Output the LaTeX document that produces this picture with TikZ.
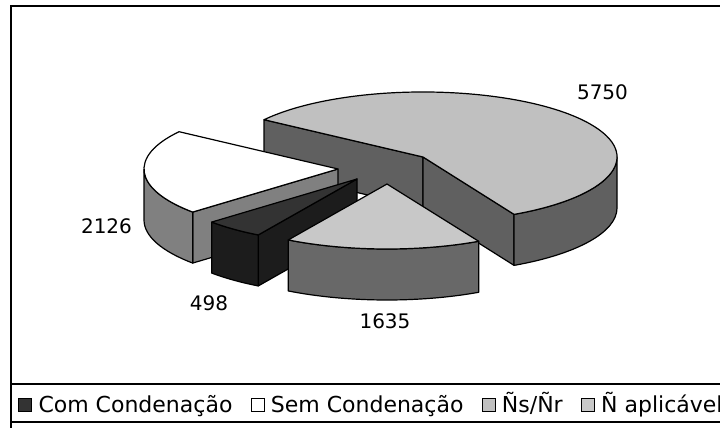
\documentclass[tikz,border=0pt]{standalone}
\usepackage{fontspec}
\setmainfont{DejaVu Sans}
\usetikzlibrary{calc}
\definecolor{bigtop}{HTML}{C0C0C0}
\definecolor{bigside}{HTML}{606060}
\definecolor{lighttop}{HTML}{C8C8C8}
\definecolor{lightside}{HTML}{686868}
\definecolor{whiteside}{HTML}{808080}
\definecolor{darktop}{HTML}{333333}
\definecolor{darkside}{HTML}{1C1C1C}
\tikzset{
  face/.style={draw=black, line width=1.2pt, line join=round},
  ell/.style={x radius=194pt, y radius=65pt},
  lbl/.style={font=\fontsize{20}{24}\selectfont, inner sep=0pt},
  legtext/.style={font=\fontsize{22}{26}\selectfont, inner sep=0pt, anchor=base west},
  legmark/.style={draw=black, line width=1pt, minimum size=13pt, inner sep=0pt, anchor=west}
}
\begin{document}
\begin{tikzpicture}[x=1pt,y=1pt]
\useasboundingbox (0,0) rectangle (720,428);
\clip (0,0) rectangle (720,428);
\fill[white] (0,0) rectangle (720,428);
% frame and legend box
\draw[line width=2pt] (11,-20) rectangle (740,421.5);
\draw[line width=1.5pt] (11,6) rectangle (740,44);

% big slice (5750)
\coordinate (B) at (423,271);
\coordinate (Bb) at (423,220);
\draw[face, fill=bigside] (B) -- ++(145:194pt and 65pt) -- ++(0,-51) -- (Bb) -- cycle;
\draw[face, fill=bigside] (B) -- ++(-62:194pt and 65pt) -- ++(0,-51) -- (Bb) -- cycle;
\draw[face, fill=bigside] ($(B)+(-62:194pt and 65pt)$) arc[start angle=-62, end angle=0, ell] -- ++(0,-51) arc[start angle=0, end angle=-62, ell] -- cycle;
\draw[face, fill=bigtop] (B) -- ++(-62:194pt and 65pt) arc[start angle=-62, end angle=145, ell] -- cycle;

% white slice (2126)
\coordinate (W) at (338,259);
\coordinate (Wb) at (338,208);
\draw[face, fill=whiteside] (W) -- ++(221.5:194pt and 65pt) -- ++(0,-51) -- (Wb) -- cycle;
\draw[face, fill=whiteside] ($(W)+(180:194pt and 65pt)$) arc[start angle=180, end angle=221.5, ell] -- ++(0,-51) arc[start angle=221.5, end angle=180, ell] -- cycle;
\draw[face, fill=white] (W) -- ++(145:194pt and 65pt) arc[start angle=145, end angle=221.5, ell] -- cycle;

% dark slice (498)
\coordinate (D) at (357,249);
\coordinate (Db) at (357,198);
\draw[face, fill=darkside] (D) -- ++(239.4:194pt and 65pt) -- ++(0,-51) -- (Db) -- cycle;
\draw[face, fill=darkside] ($(D)+(221.5:194pt and 65pt)$) arc[start angle=221.5, end angle=239.4, ell] -- ++(0,-51) arc[start angle=239.4, end angle=221.5, ell] -- cycle;
\draw[face, fill=darktop] (D) -- ++(221.5:194pt and 65pt) arc[start angle=221.5, end angle=239.4, ell] -- cycle;

% light slice (1635)
\coordinate (L) at (387,244);
\draw[face, fill=lightside] ($(L)+(239.4:194pt and 65pt)$) arc[start angle=239.4, end angle=298.2, ell] -- ++(0,-51) arc[start angle=298.2, end angle=239.4, ell] -- cycle;
\draw[face, fill=lighttop] (L) -- ++(239.4:194pt and 65pt) arc[start angle=239.4, end angle=298.2, ell] -- cycle;

% data labels
\node[lbl] (v5750) at (602.5,336) {5750};
\node[lbl] (v2126) at (106.5,202) {2126};
\node[lbl] (v498) at (209,125) {498};
\node[lbl] (v1635) at (385,107) {1635};

% legend
\node[legmark, fill=darktop] (m1) at (18.3,23.3) {};
\path (m1.east) ++(6,-7.8) node[legtext] (t1) {Com Condenação};
\path (t1.base east) ++(18,7.8) node[legmark, fill=white] (m2) {};
\path (m2.east) ++(6,-7.8) node[legtext] (t2) {Sem Condenação};
\path (t2.base east) ++(18,7.8) node[legmark, fill=bigtop] (m3) {};
\path (m3.east) ++(6,-7.8) node[legtext] (t3) {Ñs/Ñr};
\path (t3.base east) ++(18,7.8) node[legmark, fill=lighttop] (m4) {};
\path (m4.east) ++(6,-7.8) node[legtext] (t4) {Ñ aplicável};
\end{tikzpicture}
\end{document}
